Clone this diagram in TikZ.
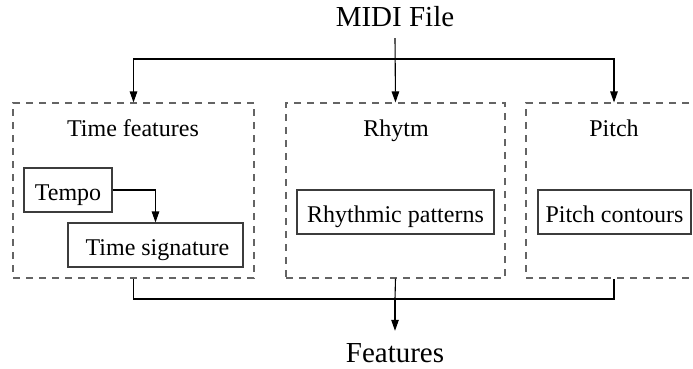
\documentclass[tikz,border=0pt]{standalone}
\usepackage{fontspec}
\setmainfont{Liberation Serif}
\usetikzlibrary{arrows.meta}
\definecolor{grp}{RGB}{100,100,100}
\definecolor{inb}{RGB}{60,60,60}
\begin{document}
\begin{tikzpicture}[x=1pt,y=-1pt,
  grpbox/.style={draw=grp,dashed,dash pattern=on 7pt off 6pt,line width=1.1pt,inner sep=0pt,minimum height=175pt},
  inbox/.style={draw=inb,line width=1.1pt,inner sep=0pt,minimum height=44pt,text height=20pt,text depth=0pt,font=\fontsize{24}{28}\selectfont},
  ttl/.style={anchor=base,inner sep=0pt,font=\fontsize{24}{28}\selectfont},
  big/.style={anchor=base,inner sep=0pt,font=\fontsize{29}{34}\selectfont},
  conn/.style={line width=1.1pt,black},
  arr/.style={conn,-{Triangle[length=11pt,width=7.5pt]}}]
\clip (0,0) rectangle (693,369);
\node[big,text depth=11pt] (midi) at (395,27) {MIDI File};
\node[big,text height=31pt,text depth=2pt] (feat) at (395,362) {Features};
\node[grpbox,minimum width=241pt] (g1) at (133.5,190.5) {};
\node[grpbox,minimum width=219pt] (g2) at (395.5,190.5) {};
\node[grpbox,minimum width=176pt] (g3) at (614,190.5) {};
\node[ttl] (t1) at (133,136) {Time features};
\node[ttl] (t2) at (396,136) {Rhytm};
\node[ttl] (t3) at (614,136) {Pitch};
\node[inbox,minimum width=88pt] (tempo) at (68,190) {Tempo};
\node[inbox,minimum width=175pt] (tsig) at (155.5,245) {\hspace*{4pt}Time signature};
\node[inbox,minimum width=197pt] (rp) at (395.5,212) {Rhythmic patterns};
\node[inbox,minimum width=153pt] (pc) at (614.5,212) {Pitch contours};
\coordinate (jt) at (395,59);
\coordinate (jb) at (395,299);
\draw[arr] (midi.south) -- (g2.north);
\draw[arr] (jt) -| (g1.north);
\draw[arr] (jt) -| (g3.north);
\draw[conn] (g1.south) |- (jb) -| (g3.south);
\draw[conn] (g2.south) -- (jb);
\draw[arr] (jb) -- (feat.north);
\draw[arr] (tempo.east) -| (tsig.north);
\end{tikzpicture}
\end{document}
